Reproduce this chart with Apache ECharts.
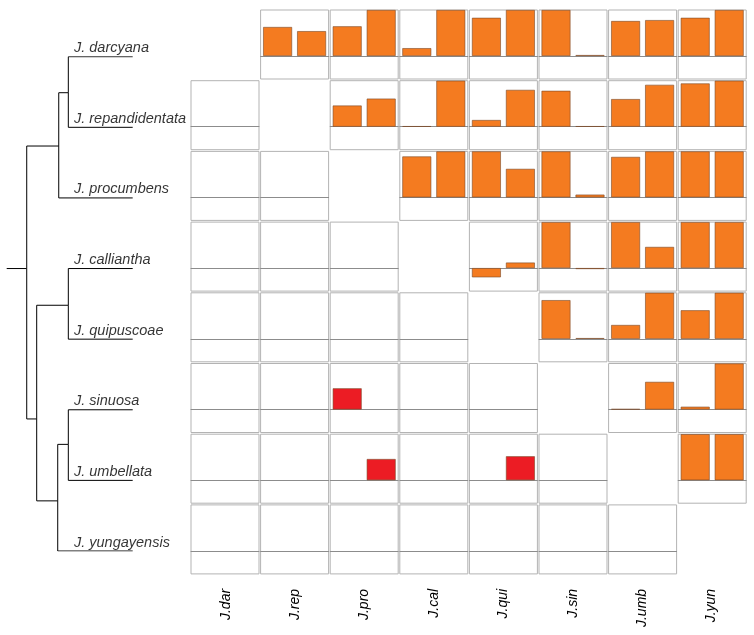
<!DOCTYPE html>
<html>
<head>
<meta charset="utf-8">
<script src="https://cdn.jsdelivr.net/npm/echarts@6/dist/echarts.min.js"></script>
<style>
html,body{margin:0;padding:0;background:#fff;}
#chart{width:754px;height:635px;}
</style>
</head>
<body>
<div id="chart"></div>
<script>
// ---------- DATA ----------
const species = ['J. darcyana','J. repandidentata','J. procumbens','J. calliantha','J. quipuscoae','J. sinuosa','J. umbellata','J. yungayensis'];
const abbrev = ['J.dar','J.rep','J.pro','J.cal','J.qui','J.sin','J.umb','J.yun'];

// upper triangle: first (left) bar of each panel, row = species, col = species
const firstBar = [
  [null, 0.63, 0.645, 0.17, 0.83, 1,    0.76, 0.83],
  [null, null, 0.46,  0.01, 0.145,0.78, 0.60, 0.94],
  [null, null, null,  0.89, 1,    1,    0.88, 1],
  [null, null, null,  null, -0.2, 1,    1,    1],
  [null, null, null,  null, null, 0.84, 0.30, 0.62],
  [null, null, null,  null, null, null, 0.01, 0.06],
  [null, null, null,  null, null, null, null, 1],
  [null, null, null,  null, null, null, null, null]
];
// upper triangle: second (right) bar of each panel
const secondBar = [
  [null, 0.54, 1,    1,    1,    0.02,  0.78, 1],
  [null, null, 0.61, 1,    0.80, 0.01,  0.91, 1],
  [null, null, null, 1,    0.62, 0.06,  1,    1],
  [null, null, null, null, 0.12, -0.02, 0.46, 1],
  [null, null, null, null, null, 0.015, 1,    1],
  [null, null, null, null, null, null,  0.60, 1],
  [null, null, null, null, null, null,  null, 1],
  [null, null, null, null, null, null,  null, null]
];
// lower triangle red bars: [row, col, slot(0 = left, 1 = right), value]
const redBars = [
  [5, 2, 0, 0.46],
  [6, 2, 1, 0.46],
  [6, 4, 1, 0.52]
];
const valueMin = -0.5, valueMax = 1;

// phylogeny: depth (0..1, tips = 1) and vertical position (tip index units)
const treeNodes = [
  {id:'origin', parent:null,    depth:0,     y:3.0},
  {id:'root',   parent:'origin',depth:0.159, y:3.0},
  {id:'n1',     parent:'root',  depth:0.413, y:1.265},
  {id:'n2',     parent:'n1',    depth:0.489, y:0.51},
  {id:'dar',    parent:'n2',    depth:1,     y:0},
  {id:'rep',    parent:'n2',    depth:1,     y:1},
  {id:'pro',    parent:'n1',    depth:1,     y:2},
  {id:'n3',     parent:'root',  depth:0.238, y:5.13},
  {id:'n4',     parent:'n3',    depth:0.489, y:3.52},
  {id:'cal',    parent:'n4',    depth:1,     y:3},
  {id:'qui',    parent:'n4',    depth:1,     y:4},
  {id:'n5',     parent:'n3',    depth:0.405, y:6.29},
  {id:'n6',     parent:'n5',    depth:0.489, y:5.49},
  {id:'sin',    parent:'n6',    depth:1,     y:5},
  {id:'umb',    parent:'n6',    depth:1,     y:6},
  {id:'yun',    parent:'n5',    depth:1,     y:7}
];
const tipIds = ['dar','rep','pro','cal','qui','sin','umb','yun'];
const labelDepth = 0.534;

// ---------- LAYOUT ----------
const panelLeft0 = 191, colPitch = 69.6, panelW = 68;
const panelTop0 = 10, rowPitch = 70.7, panelH = 69;
const orange = '#F47B20', red = '#EC1C24';
const fontFam = '"Liberation Sans", Arial, sans-serif';

const grids = [], xAxes = [], yAxes = [], series = [];
const n = species.length;
for (let i = 0; i < n; i++) {
  for (let j = 0; j < n; j++) {
    if (i === j) continue;
    const g = grids.length;
    grids.push({
      left: panelLeft0 + j * colPitch, top: panelTop0 + i * rowPitch,
      width: panelW, height: panelH,
      show: true, borderColor: '#b3b3b3', borderWidth: 1, backgroundColor: 'transparent',
      containLabel: false
    });
    xAxes.push({
      type: 'category', gridIndex: g, data: ['a', 'b'],
      axisLine: {show: true, onZero: true, lineStyle: {color: '#8c8c8c', width: 1}},
      axisTick: {show: false}, axisLabel: {show: false}, splitLine: {show: false}
    });
    yAxes.push({
      type: 'value', gridIndex: g, min: valueMin, max: valueMax,
      axisLine: {show: false}, axisTick: {show: false}, axisLabel: {show: false}, splitLine: {show: false}
    });
    let data;
    if (j > i) {
      data = [firstBar[i][j], secondBar[i][j]].map(v => ({value: v, itemStyle: {color: orange}}));
    } else {
      data = [null, null];
      redBars.forEach(r => {
        if (r[0] === i && r[1] === j) data[r[2]] = {value: r[3], itemStyle: {color: red}};
      });
    }
    series.push({
      type: 'bar', xAxisIndex: g, yAxisIndex: g, data: data,
      barCategoryGap: '15%', silent: true, animation: false,
      itemStyle: {borderColor: '#7a4a28', borderWidth: 0.6}
    });
  }
}

// tree grid
const treeG = grids.length;
grids.push({left: 6.7, top: 56.7, width: 126, height: 494.3, show: false});
xAxes.push({type: 'value', gridIndex: treeG, min: 0, max: 1, show: false});
yAxes.push({type: 'value', gridIndex: treeG, min: 0, max: 7, inverse: true, show: false});
const byId = {};
treeNodes.forEach(nd => byId[nd.id] = nd);
const treeLines = treeNodes.filter(nd => nd.parent).map(nd => {
  const p = byId[nd.parent];
  return {coords: [[p.depth, p.y], [p.depth, nd.y], [nd.depth, nd.y]]};
});
series.push({
  type: 'lines', coordinateSystem: 'cartesian2d', xAxisIndex: treeG, yAxisIndex: treeG,
  polyline: true, data: treeLines, silent: true, animation: false,
  lineStyle: {color: '#000', width: 1, opacity: 1}
});
series.push({
  type: 'scatter', xAxisIndex: treeG, yAxisIndex: treeG, symbolSize: 0, silent: true, animation: false,
  data: tipIds.map((id, k) => ({name: species[k], value: [labelDepth, byId[id].y]})),
  label: {
    show: true, position: 'right', distance: 0, align: 'left', verticalAlign: 'bottom',
    offset: [0, -1], formatter: '{b}', fontStyle: 'italic', fontSize: 14.5,
    fontFamily: fontFam, color: '#000'
  }
});

// column label grid
const labG = grids.length;
grids.push({left: panelLeft0, top: panelTop0, width: 7 * colPitch + panelW, height: 7 * rowPitch + panelH, show: false});
xAxes.push({
  type: 'category', gridIndex: labG, data: abbrev,
  axisLine: {show: false}, axisTick: {show: false}, splitLine: {show: false},
  axisLabel: {show: true, rotate: 90, margin: 15, interval: 0, fontStyle: 'italic', fontSize: 14,
    fontFamily: fontFam, color: '#000'}
});
yAxes.push({type: 'value', gridIndex: labG, show: false});

const chart = echarts.init(document.getElementById('chart'), null, {renderer: 'canvas'});
chart.setOption({
  animation: false,
  backgroundColor: '#fff',
  grid: grids, xAxis: xAxes, yAxis: yAxes, series: series
});
</script>
</body>
</html>
